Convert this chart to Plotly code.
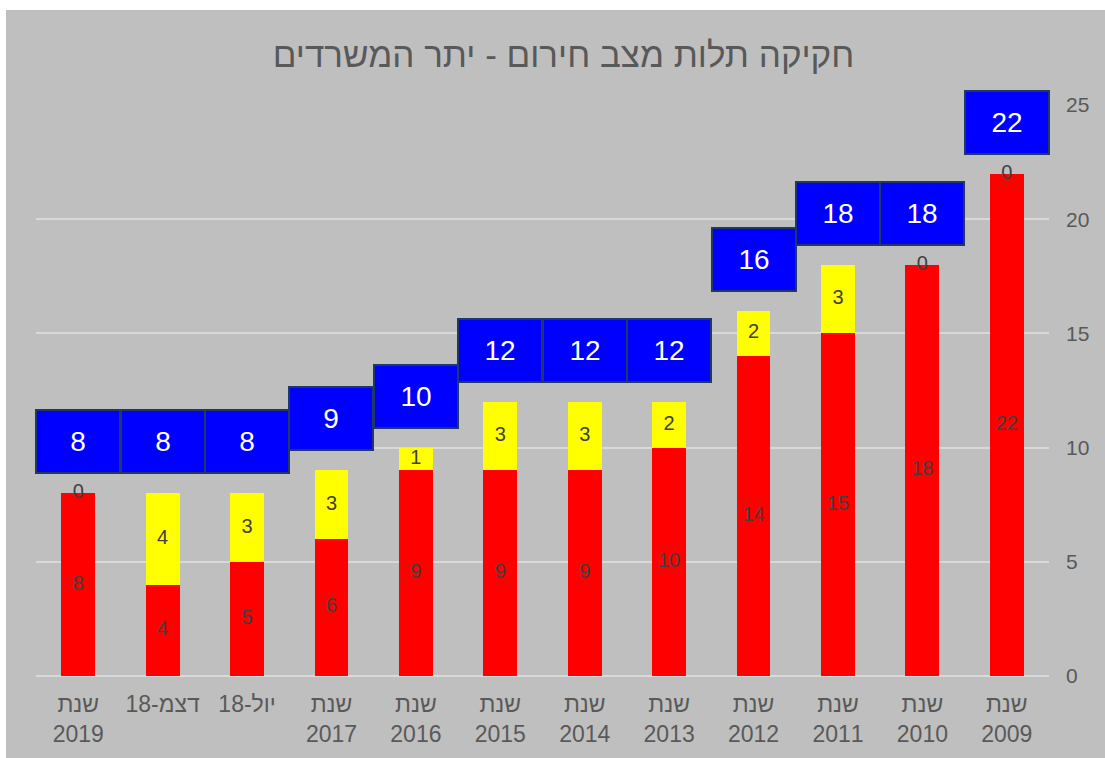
import plotly.graph_objects as go

categories = ["שנת<br>2009", "שנת<br>2010", "שנת<br>2011", "שנת<br>2012", "שנת<br>2013",
              "שנת<br>2014", "שנת<br>2015", "שנת<br>2016", "שנת<br>2017", "יול-18",
              "דצמ-18", "שנת<br>2019"]
red_values = [22, 18, 15, 14, 10, 9, 9, 9, 6, 5, 4, 8]
yellow_values = [0, 0, 3, 2, 2, 3, 3, 1, 3, 3, 4, 0]
totals = [r + y for r, y in zip(red_values, yellow_values)]
title_text = "חקיקה תלות מצב חירום - יתר המשרדים"

FONT = "Liberation Sans, Arial, sans-serif"
LABEL = "#404040"
AXIS = "#595959"

fig = go.Figure()
fig.add_trace(go.Bar(x=categories, y=red_values, marker=dict(color="#FF0000", line=dict(width=0)),
                     name="red", hoverinfo="y"))
fig.add_trace(go.Bar(x=categories, y=yellow_values, marker=dict(color="#FFFF00", line=dict(width=0)),
                     name="yellow", hoverinfo="y"))
# red labels centred in red segment
fig.add_trace(go.Scatter(x=categories, y=[r / 2 for r in red_values], mode="text",
                         text=[str(v) for v in red_values],
                         textfont=dict(color=LABEL, size=20, family=FONT), hoverinfo="skip"))
# yellow labels centred in yellow segment (at top for zeros)
fig.add_trace(go.Scatter(x=categories, y=[r + y / 2 for r, y in zip(red_values, yellow_values)],
                         mode="text", text=[str(v) for v in yellow_values],
                         textfont=dict(color=LABEL, size=20, family=FONT), hoverinfo="skip"))

annotations = []
for c, t in zip(categories, totals):
    annotations.append(dict(x=c, y=t, xref="x", yref="y", text=str(t), showarrow=False,
                            yanchor="bottom", yshift=19, width=80, height=59,
                            bgcolor="#0000FF", bordercolor="#1F3864", borderwidth=2,
                            font=dict(color="white", size=28, family=FONT)))

L, R, T, B = 36, 56, 105, 82
W, H = 1105, 758
pw, ph = W - L - R, H - T - B
shapes = [
    dict(type="rect", xref="paper", yref="paper", x0=-L / pw, x1=(6 - L) / pw,
         y0=-B / ph, y1=1 + T / ph, fillcolor="white", line=dict(width=0), layer="below"),
    dict(type="rect", xref="paper", yref="paper", x0=-L / pw, x1=1 + R / pw,
         y0=1 + (T - 10) / ph, y1=1 + T / ph, fillcolor="white", line=dict(width=0), layer="below"),
]

n = len(categories)
fig.update_layout(
    barmode="stack", bargap=0.6, showlegend=False,
    width=W, height=H, margin=dict(l=L, r=R, t=T, b=B),
    paper_bgcolor="#BFBFBF", plot_bgcolor="#BFBFBF",
    title=dict(text=title_text, x=0.51, xanchor="center", y=0.928, yanchor="middle",
               font=dict(size=35, color=AXIS, family=FONT)),
    xaxis=dict(range=[n - 0.5, -0.5], tickfont=dict(size=23, color=AXIS, family=FONT),
               showgrid=False, showline=False, ticks="", ticklabelstandoff=12),
    yaxis=dict(side="right", range=[0, 25], dtick=5, showgrid=True, gridcolor="#D9D9D9",
               gridwidth=2, zeroline=True, zerolinecolor="#D9D9D9", zerolinewidth=2,
               tickfont=dict(size=21, color=AXIS, family=FONT), ticklabelstandoff=16),
    annotations=annotations, shapes=shapes,
)

fig.write_html("out.html", config={"displayModeBar": False},
               post_script="document.body.style.margin='0';")
